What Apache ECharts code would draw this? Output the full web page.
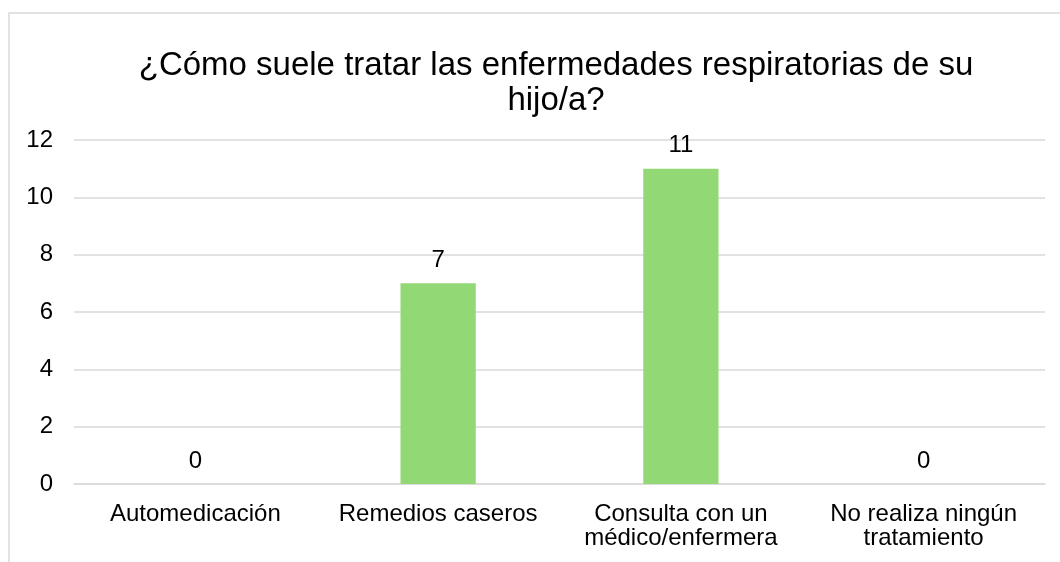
<!DOCTYPE html>
<html>
<head>
<meta charset="utf-8">
<script src="https://cdn.jsdelivr.net/npm/echarts@6/dist/echarts.min.js"></script>
<style>
  html, body { margin: 0; padding: 0; background: #fff; }
  #chart { width: 1060px; height: 562px; }
</style>
</head>
<body>
<div id="chart"></div>
<script>
const categorias = [
  "Automedicación",
  "Remedios caseros",
  "Consulta con un\nmédico/enfermera",
  "No realiza ningún\ntratamiento"
];
const respuestas = [0, 7, 11, 0];
const titulo = "¿Cómo suele tratar las enfermedades respiratorias de su\nhijo/a?";

var myChart = echarts.init(document.getElementById("chart"));
myChart.setOption({
  animation: false,
  title: {
    text: titulo,
    left: 551,
    textAlign: "center",
    top: 43,
    textStyle: {
      fontFamily: "Liberation Sans, Arial, sans-serif",
      fontSize: 33,
      fontWeight: "normal",
      color: "#000",
      lineHeight: 35
    }
  },
  graphic: [
    {
      type: "rect",
      shape: { x: 9, y: 13, width: 1200, height: 700 },
      style: { fill: "none", stroke: "#d9d9d9", lineWidth: 1.5 },
      silent: true
    }
  ],
  grid: { left: 74, right: 15, top: 140, bottom: 78, containLabel: false },
  xAxis: {
    type: "category",
    data: categorias,
    axisTick: { show: false },
    axisLine: { lineStyle: { color: "#d9d9d9", width: 1.5 } },
    axisLabel: {
      interval: 0,
      margin: 18,
      color: "#000",
      fontFamily: "Liberation Sans, Arial, sans-serif",
      fontSize: 24,
      lineHeight: 24
    }
  },
  yAxis: {
    type: "value",
    min: 0,
    max: 12,
    interval: 2,
    axisLine: { show: false },
    axisTick: { show: false },
    splitLine: { lineStyle: { color: "#d9d9d9", width: 1.5 } },
    axisLabel: {
      margin: 21,
      color: "#000",
      fontFamily: "Liberation Sans, Arial, sans-serif",
      fontSize: 24
    }
  },
  series: [
    {
      type: "bar",
      data: respuestas,
      barWidth: "31%",
      itemStyle: { color: "#92D975" },
      label: {
        show: true,
        position: "top",
        distance: 11,
        color: "#000",
        fontFamily: "Liberation Sans, Arial, sans-serif",
        fontSize: 24
      }
    }
  ]
});
</script>
</body>
</html>
